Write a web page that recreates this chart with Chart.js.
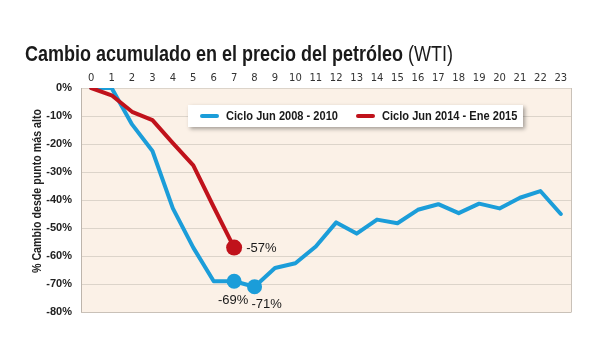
<!DOCTYPE html>
<html>
<head>
<meta charset="utf-8">
<script src="https://cdn.jsdelivr.net/npm/chart.js@4/dist/chart.umd.min.js"></script>
<style>
  html, body { margin: 0; padding: 0; background: #ffffff; }
  #wrap { position: relative; width: 600px; height: 360px; }
  #title { position: absolute; left: 25px; top: 41px; font-family: 'Liberation Sans', Arial, sans-serif; font-size: 22.5px; line-height: 26px; color: #1a1a1a; white-space: nowrap; transform: scaleX(0.8); transform-origin: 0 0; }
  #title b { font-weight: bold; }
  #title span { font-weight: normal; }
  canvas { position: absolute; left: 0; top: 0; }
</style>
</head>
<body>
<div id="wrap">
  <canvas id="c" width="600" height="360"></canvas>
  <div id="title"><b>Cambio acumulado en el precio del petróleo</b> <span>(WTI)</span></div>
</div>
<script>
const meses = ['0','1','2','3','4','5','6','7','8','9','10','11','12','13','14','15','16','17','18','19','20','21','22','23'];
const ciclo2008 = [0, 0, -13, -22.5, -43, -57, -69, -69, -71, -64.3, -62.6, -56.6, -48, -52, -47, -48.3, -43.5, -41.5, -44.7, -41.3, -43, -39.2, -36.8, -45];
const ciclo2014 = [0, -2.6, -8.5, -11.5, -19.7, -27.6, -42.5, -57];
const etiquetas = ['Ciclo Jun 2008 - 2010', 'Ciclo Jun 2014 - Ene 2015'];
const yTicks = [0, -10, -20, -30, -40, -50, -60, -70, -80];
const destacados2008 = [7, 8];
const destacados2014 = [7];
const tituloY = '% Cambio desde punto más alto';

const AZUL = '#1b9dd9';
const ROJO = '#c0121b';
const CONDENSADO = 0.82;

function radios(n, idx, r) { return Array.from({length: n}, (_, i) => idx.includes(i) ? r : 0); }

function textoCondensado(ctx, txt, x, y, align) {
  const w = ctx.measureText(txt).width * CONDENSADO;
  let sx = x;
  if (align === 'center') sx = x - w / 2;
  else if (align === 'right') sx = x - w;
  ctx.save();
  ctx.textAlign = 'left';
  ctx.translate(sx, y);
  ctx.scale(CONDENSADO, 1);
  ctx.fillText(txt, 0, 0);
  ctx.restore();
}

const fondoPlugin = {
  id: 'fondo',
  beforeDraw(chart) {
    const {ctx, chartArea: a} = chart;
    ctx.save();
    ctx.fillStyle = '#fbf1e7';
    ctx.fillRect(a.left, a.top, a.right - a.left, a.bottom - a.top);
    ctx.restore();
  },
  afterDraw(chart) {
    const {ctx, chartArea: a} = chart;
    ctx.save();
    ctx.strokeStyle = '#c9c1b8';
    ctx.lineWidth = 1;
    ctx.beginPath();
    ctx.moveTo(a.left, a.bottom + 0.5); ctx.lineTo(a.right, a.bottom + 0.5);
    ctx.moveTo(a.right + 0.5, a.top); ctx.lineTo(a.right + 0.5, a.bottom + 0.5);
    ctx.stroke();
    ctx.translate(37, (a.top + a.bottom) / 2 - 9);
    ctx.rotate(-Math.PI / 2);
    ctx.font = "bold 13px 'Liberation Sans', Arial, sans-serif";
    ctx.fillStyle = '#222';
    ctx.textBaseline = 'middle';
    textoCondensado(ctx, tituloY, 0, 0, 'center');
    ctx.restore();
  }
};

const leyendaPlugin = {
  id: 'leyenda',
  afterDatasetsDraw(chart) {
    const {ctx} = chart;
    const x0 = 188, y0 = 105, w = 335, h = 22;
    ctx.save();
    ctx.shadowColor = 'rgba(0,0,0,0.35)';
    ctx.shadowBlur = 4;
    ctx.shadowOffsetX = 2;
    ctx.shadowOffsetY = 2;
    ctx.fillStyle = '#ffffff';
    ctx.fillRect(x0, y0, w, h);
    ctx.restore();
    ctx.save();
    ctx.font = "bold 13.5px 'Liberation Sans', Arial, sans-serif";
    ctx.textBaseline = 'middle';
    ctx.fillStyle = '#1a1a1a';
    const items = [[200, chart.data.datasets[0]], [356, chart.data.datasets[1]]];
    items.forEach(([x, ds]) => {
      ctx.strokeStyle = ds.borderColor;
      ctx.lineWidth = 4;
      ctx.lineCap = 'round';
      ctx.beginPath();
      ctx.moveTo(x + 2, y0 + h / 2); ctx.lineTo(x + 17, y0 + h / 2);
      ctx.stroke();
      textoCondensado(ctx, ds.label, x + 26, y0 + h / 2 + 0.5, 'left');
    });
    ctx.restore();
  }
};

const valoresPlugin = {
  id: 'valores',
  afterDatasetsDraw(chart) {
    const {ctx} = chart;
    ctx.save();
    ctx.font = "13px 'Liberation Sans', sans-serif";
    ctx.fillStyle = '#1a1a1a';
    ctx.textBaseline = 'middle';
    const m0 = chart.getDatasetMeta(0).data;
    const m1 = chart.getDatasetMeta(1).data;
    const d0 = chart.data.datasets[0].data;
    const d1 = chart.data.datasets[1].data;
    const fmt = v => Math.round(v) + '%';
    const p = m1[destacados2014[0]];
    ctx.textAlign = 'left';
    ctx.fillText(fmt(d1[destacados2014[0]]), p.x + 12, p.y + 1);
    const a = m0[destacados2008[0]];
    ctx.textAlign = 'center';
    ctx.fillText(fmt(d0[destacados2008[0]]), a.x - 1, a.y + 19);
    const b = m0[destacados2008[1]];
    ctx.textAlign = 'left';
    ctx.fillText(fmt(d0[destacados2008[1]]), b.x - 3, b.y + 18);
    ctx.restore();
  }
};

new Chart(document.getElementById('c'), {
  type: 'line',
  data: {
    labels: meses,
    datasets: [
      {
        label: etiquetas[0],
        data: ciclo2008,
        borderColor: AZUL,
        backgroundColor: AZUL,
        borderWidth: 4,
        tension: 0,
        borderJoinStyle: 'round',
        borderCapStyle: 'round',
        pointRadius: radios(ciclo2008.length, destacados2008, 7.5),
        pointBorderWidth: 0,
        pointBackgroundColor: AZUL,
        pointHoverRadius: 0,
        order: 2
      },
      {
        label: etiquetas[1],
        data: ciclo2014,
        borderColor: ROJO,
        backgroundColor: ROJO,
        borderWidth: 4,
        tension: 0,
        borderJoinStyle: 'round',
        borderCapStyle: 'round',
        pointRadius: radios(ciclo2014.length, destacados2014, 8),
        pointBorderWidth: 0,
        pointBackgroundColor: ROJO,
        pointHoverRadius: 0,
        order: 1
      }
    ]
  },
  options: {
    responsive: false,
    animation: false,
    events: [],
    layout: { padding: { left: 0, top: 0, right: 29, bottom: 48 } },
    plugins: {
      legend: { display: false },
      tooltip: { enabled: false },
      title: { display: false }
    },
    scales: {
      x: {
        type: 'category',
        position: 'top',
        offset: true,
        grid: { display: false, drawTicks: false },
        border: { display: false },
        ticks: {
          padding: 4,
          color: '#333',
          font: { family: "'DejaVu Sans', sans-serif", size: 10 },
          maxRotation: 0,
          autoSkip: false
        },
        afterFit(s) { s.height = 88; }
      },
      y: {
        min: -80,
        max: 0,
        afterBuildTicks(s) { s.ticks = yTicks.map(v => ({ value: v })); },
        grid: { color: '#dcd4ca', lineWidth: 1, drawTicks: false },
        border: { display: true, color: '#bdb5ac', width: 1 },
        ticks: {
          padding: 9,
          color: '#222',
          font: { family: "'Liberation Sans', sans-serif", size: 11, weight: 'bold' },
          callback: v => v + '%'
        },
        afterFit(s) { s.width = 81; }
      }
    }
  },
  plugins: [fondoPlugin, leyendaPlugin, valoresPlugin]
});
</script>
</body>
</html>
